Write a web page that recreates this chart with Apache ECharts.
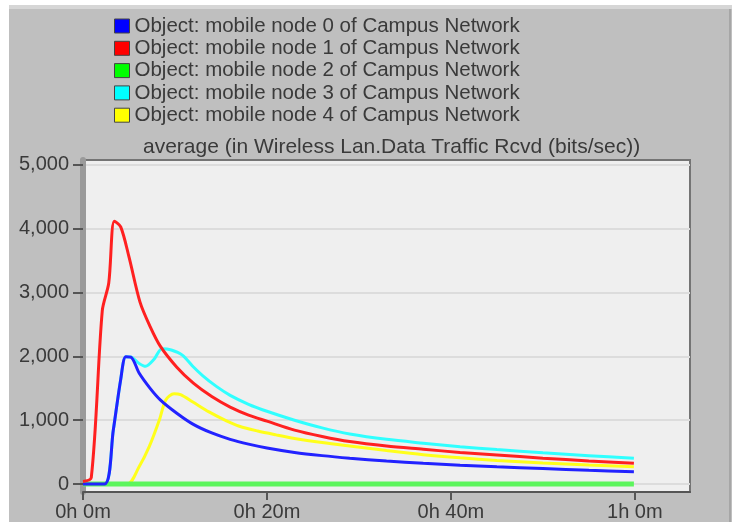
<!DOCTYPE html>
<html>
<head>
<meta charset="utf-8">
<script src="https://cdn.jsdelivr.net/npm/echarts@6/dist/echarts.min.js"></script>
<style>
  html, body { margin: 0; padding: 0; background: #fff; }
  #chart { width: 732px; height: 522px; }
</style>
</head>
<body>
<div id="chart"></div>
<script>
// [minute, bits/sec]
const node0 = [[0, 0], [2.35, 0], [3.3, 850], [4.1, 1640], [4.65, 1995], [5.2, 1990], [6.1, 1740], [7.3, 1500],
  [8.4, 1320], [10.2, 1110], [12, 935], [14, 800], [16, 700], [18, 625], [20, 565], [23, 495], [26, 445],
  [29, 405], [33, 360], [37, 325], [41, 295], [45, 270], [50, 242], [55, 215], [59.9, 193]]
const node1 = [[0, 40], [0.9, 100], [2.1, 2720], [2.8, 3150], [3.4, 4120], [4.1, 4030], [5.0, 3560], [6.2, 2850],
  [7.3, 2466], [8.4, 2160], [10.2, 1830], [12, 1580], [14, 1370], [16, 1205], [18, 1080], [20, 985],
  [23, 845], [26, 745], [29, 665], [33, 595], [37, 545], [41, 495], [45, 455], [50, 405], [55, 362], [59.9, 325]]
const node2 = [[0, 0], [59.9, 0]]
const node3 = [[0, 0], [2.35, 0], [3.3, 850], [4.1, 1640], [4.65, 1995], [5.2, 1990], [6.1, 1890], [6.8, 1845],
  [7.7, 1950], [8.6, 2120], [9.6, 2100], [10.8, 2020], [11.9, 1850], [13, 1700], [14.5, 1530], [16, 1390],
  [18, 1250], [20, 1140], [23, 1000], [26, 880], [29, 785], [33, 700], [37, 640], [41, 585], [45, 540],
  [50, 490], [55, 445], [59.9, 403]]
const node4 = [[0, 0], [4.8, 0], [6.1, 270], [7.2, 585], [8.3, 1003], [9.0, 1317], [9.9, 1415], [10.6, 1400],
  [11.9, 1290], [13.7, 1130], [15.6, 990], [17, 905], [19, 830], [21, 770], [23, 715], [26, 650], [29, 595],
  [33, 525], [37, 460], [41, 410], [45, 370], [50, 330], [55, 298], [59.9, 271]]

const seriesNames = ['Object: mobile node 0 of Campus Network', 'Object: mobile node 1 of Campus Network',
  'Object: mobile node 2 of Campus Network', 'Object: mobile node 3 of Campus Network',
  'Object: mobile node 4 of Campus Network']
const chartTitle = 'average (in Wireless Lan.Data Traffic Rcvd (bits/sec))'
const xTicks = [0, 20, 40, 60]
const xTickLabels = ['0h 0m', '0h 20m', '0h 40m', '1h 0m']
const yTicks = [0, 1000, 2000, 3000, 4000, 5000]

const font = "'Liberation Sans', Arial, sans-serif"
const txt = '#3a3a3a'

const chart = echarts.init(document.getElementById('chart'), null, { renderer: 'canvas' })

function line(i, data, legendColor, color, width, z) {
  return { name: seriesNames[i], type: 'line', data, z, symbol: 'none', smooth: 0.3,
    itemStyle: { color: legendColor }, lineStyle: { color, width } }
}

chart.setOption({
  animation: false,
  backgroundColor: '#bfbfbf',
  graphic: [
    { type: 'rect', shape: { x: 0, y: 0, width: 732, height: 5 }, style: { fill: '#fff' }, silent: true },
    { type: 'rect', shape: { x: 0, y: 5, width: 732, height: 4 }, style: { fill: '#d6d6d6' }, silent: true },
    { type: 'rect', shape: { x: 0, y: 0, width: 9, height: 522 }, style: { fill: '#fff' }, silent: true },
    { type: 'rect', shape: { x: 729, y: 9, width: 2, height: 513 }, style: { fill: '#a6a6a6' }, silent: true }
  ],
  title: { text: chartTitle, left: 143, top: 137, padding: 0,
    textStyle: { fontFamily: font, fontSize: 21, fontWeight: 'normal', color: txt } },
  legend: { orient: 'vertical', left: 114, top: 15, padding: 0, itemGap: 0.3, icon: 'rect',
    itemWidth: 15, itemHeight: 14, itemTextGap: 7,
    itemStyle: { borderColor: '#444', borderWidth: 1 },
    textStyle: { fontFamily: font, fontSize: 20.5, color: txt, lineHeight: 22 },
    data: seriesNames },
  grid: { left: 83, right: 42, top: 160, bottom: 30, show: true, backgroundColor: '#efefef',
    borderColor: '#747474', borderWidth: 2 },
  xAxis: { type: 'value', min: 0, max: 66,
    axisLine: { onZero: false, lineStyle: { color: '#555', width: 2 } },
    axisTick: { customValues: xTicks, length: 8, lineStyle: { color: '#555', width: 2 } },
    axisLabel: { customValues: xTicks, margin: 10, fontFamily: font, fontSize: 20, color: txt,
      formatter: v => xTickLabels[xTicks.indexOf(v)] ?? '' },
    splitLine: { show: false } },
  yAxis: { type: 'value', min: -125, max: 5078,
    axisLine: { show: true, lineStyle: { color: '#9a9a9a', width: 6 } },
    axisTick: { show: true, customValues: yTicks, length: 10, lineStyle: { color: '#555', width: 2 } },
    axisLabel: { customValues: yTicks, margin: 14, fontFamily: font, fontSize: 20, color: txt,
      formatter: v => v.toLocaleString('en-US') },
    splitLine: { show: true, lineStyle: { color: '#dcdcdc', width: 2 } } },
  series: [
    line(0, node0, '#0000ff', '#2222ff', 3, 5),
    line(1, node1, '#ff0000', '#ff2020', 3, 6),
    line(2, node2, '#00ff00', '#5cf55c', 5, 4),
    line(3, node3, '#00ffff', '#30ffff', 3, 3),
    line(4, node4, '#ffff00', '#ffff1a', 3, 2)
  ]
})
</script>
</body>
</html>
